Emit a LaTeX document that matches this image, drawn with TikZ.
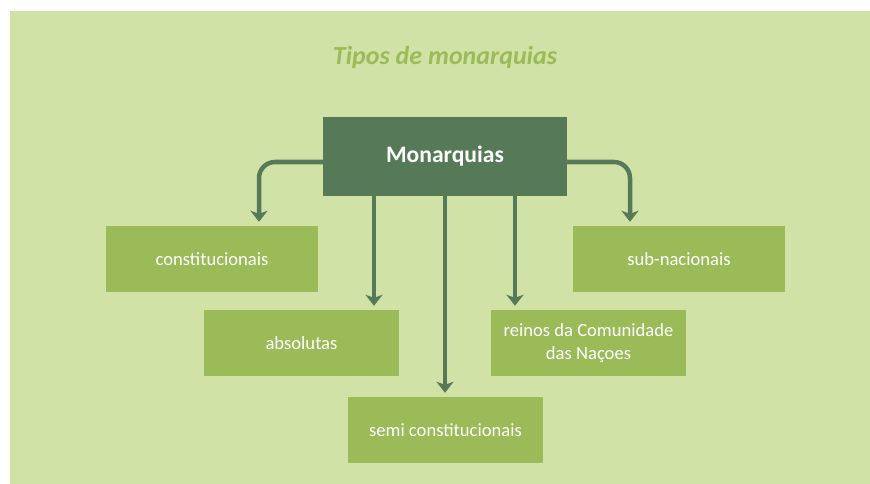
\documentclass[tikz,border=0pt]{standalone}
\usepackage{fontspec}
\setmainfont{Carlito}
\usetikzlibrary{arrows.meta}
\definecolor{bgc}{HTML}{D1E2A6}
\definecolor{boxc}{HTML}{9BBB59}
\definecolor{darkc}{HTML}{567A57}
\tikzset{
  kind/.style={rectangle, fill=boxc, text=white, minimum width=195pt, minimum height=66pt, inner sep=0pt, align=center, font=\fontsize{18.6}{22.5}\selectfont},
  arr/.style={draw=darkc, line width=4.5pt, -{Stealth[width=17pt,length=11pt,inset=3pt]}, shorten >=4pt}
}
\begin{document}
\begin{tikzpicture}[x=1pt,y=-1pt]
\useasboundingbox (0,0) rectangle (870,484);
\fill[bgc] (10,11) rectangle (870,484);
\node[text=boxc, font=\fontsize{26}{30}\selectfont\bfseries\itshape] (title) at (445,57) {Tipos de monarquias};
\node[rectangle, fill=darkc, text=white, minimum width=244pt, minimum height=79pt, inner sep=0pt, font=\fontsize{23.6}{28}\selectfont\bfseries] (mon) at (445,156.5) {Monarquias};
\node[kind, minimum width=212pt] (cons) at (212,259) {constitucionais};
\node[kind, minimum width=212pt] (sub) at (679,259) {sub-nacionais};
\node[kind] (abs) at (301.5,343) {absolutas};
\node[kind] (rein) at (588.5,343) {reinos da Comunidade\\das Naçoes};
\node[kind] (semi) at (445.5,430) {semi constitucionais};
\draw[arr, rounded corners=16pt] ([yshift=-5.5pt]mon.west) -| ([xshift=47pt]cons.north);
\draw[arr, rounded corners=16pt] ([yshift=-5.5pt]mon.east) -| ([xshift=-49pt]sub.north);
\draw[arr] ([xshift=-71pt]mon.south) -- ([xshift=72.5pt]abs.north);
\draw[arr] (mon.south) -- ([xshift=-0.5pt]semi.north);
\draw[arr] ([xshift=70pt]mon.south) -- ([xshift=-73.5pt]rein.north);
\end{tikzpicture}
\end{document}
